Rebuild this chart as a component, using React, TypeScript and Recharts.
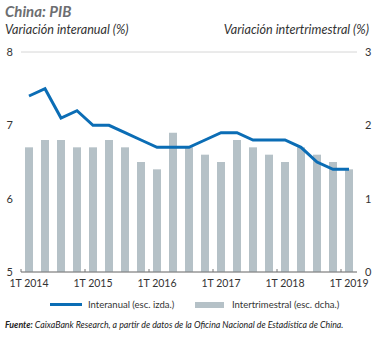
import React from 'react';
import { ComposedChart, Bar, Line, XAxis, YAxis, CartesianGrid } from 'recharts';

// Quarters 1T 2014 - 1T 2019
const quarters = [
  '1T 2014', '2T 2014', '3T 2014', '4T 2014',
  '1T 2015', '2T 2015', '3T 2015', '4T 2015',
  '1T 2016', '2T 2016', '3T 2016', '4T 2016',
  '1T 2017', '2T 2017', '3T 2017', '4T 2017',
  '1T 2018', '2T 2018', '3T 2018', '4T 2018',
  '1T 2019',
];

// Interanual (%), left scale
const interanual = [
  7.4, 7.5, 7.1, 7.2,
  7.0, 7.0, 6.9, 6.8,
  6.7, 6.7, 6.7, 6.8,
  6.9, 6.9, 6.8, 6.8,
  6.8, 6.7, 6.5, 6.4,
  6.4,
];

// Intertrimestral (%), right scale
const intertrimestral = [
  1.7, 1.8, 1.8, 1.7,
  1.7, 1.8, 1.7, 1.5,
  1.4, 1.9, 1.7, 1.6,
  1.5, 1.8, 1.7, 1.6,
  1.5, 1.7, 1.6, 1.5,
  1.4,
];

const leftTicks = [5, 6, 7, 8];
const rightTicks = [0, 1, 2, 3];

const data = quarters.map((q, i) => ({
  q,
  interanual: interanual[i],
  intertrimestral: intertrimestral[i],
}));

const FONT = 'Lato, "Noto Sans", sans-serif';
const BLUE = '#0b6db5';
const GREY_BAR = '#b5c1c7';

// x tick: label + small mark at the start of each year
const YearTick = (props: any) => {
  const { x, y, payload } = props;
  const half = payload.offset ?? 8;
  return (
    <g>
      <line x1={x - half} x2={x - half} y1={y - 3} y2={y} stroke="#777" strokeWidth={1} />
      <text x={x} y={y + 15} textAnchor="middle" fontSize={10.5} fill="#333" fontFamily={FONT}>
        {payload.value}
      </text>
    </g>
  );
};

export default function App() {
  return (
    <div style={{ position: 'absolute', left: 0, top: 0, width: 385, height: 338, background: '#fff', fontFamily: FONT }}>
      <div style={{ position: 'absolute', left: 5, top: 2, fontSize: 15, fontWeight: 700, fontStyle: 'italic', color: '#6d6e71' }}>
        China: PIB
      </div>
      <div style={{ position: 'absolute', left: 5, top: 22, fontSize: 12.6, fontStyle: 'italic', color: '#333' }}>
        Variación interanual (%)
      </div>
      <div style={{ position: 'absolute', right: 16, top: 22, fontSize: 12.6, fontStyle: 'italic', color: '#333' }}>
        Variación intertrimestral (%)
      </div>

      <ComposedChart
        width={385}
        height={338}
        data={data}
        margin={{ top: 52, right: 0, left: 0, bottom: 46 }}
        style={{ position: 'absolute', left: 0, top: 0 }}
      >
        <CartesianGrid vertical={false} stroke="#d6d6d6" />
        <XAxis
          dataKey="q"
          interval={3}
          tickSize={0}
          tickMargin={0}
          height={20}
          axisLine={{ stroke: '#777' }}
          tick={<YearTick />}
        />
        <YAxis
          yAxisId="left"
          domain={[5, 8]}
          ticks={leftTicks}
          width={21}
          axisLine={false}
          tickLine={false}
          tickMargin={2}
          tick={{ fontSize: 11, fill: '#333', fontFamily: FONT }}
        />
        <YAxis
          yAxisId="right"
          orientation="right"
          domain={[0, 3]}
          ticks={rightTicks}
          width={28}
          axisLine={false}
          tickLine={false}
          tickMargin={2}
          tick={{ fontSize: 11, fill: '#333', fontFamily: FONT }}
        />
        <Bar yAxisId="right" dataKey="intertrimestral" fill={GREY_BAR} barSize={8} isAnimationActive={false} />
        <Line
          yAxisId="left"
          type="linear"
          dataKey="interanual"
          stroke={BLUE}
          strokeWidth={3}
          dot={false}
          isAnimationActive={false}
        />
      </ComposedChart>

      <div style={{ position: 'absolute', left: 50, top: 299, display: 'flex', alignItems: 'center', fontSize: 9.5, color: '#333' }}>
        <span style={{ display: 'inline-block', width: 32, height: 3, background: BLUE, marginRight: 6 }} />
        Interanual (esc. izda.)
      </div>
      <div style={{ position: 'absolute', left: 195, top: 299, display: 'flex', alignItems: 'center', fontSize: 9.5, color: '#333' }}>
        <span style={{ display: 'inline-block', width: 29, height: 6, background: GREY_BAR, marginRight: 8 }} />
        Intertrimestral (esc. dcha.)
      </div>
      <div style={{ position: 'absolute', left: 5, top: 319, fontSize: 8.8, fontStyle: 'italic', color: '#222', whiteSpace: 'nowrap' }}>
        <b>Fuente:</b> CaixaBank Research, a partir de datos de la Oficina Nacional de Estadística de China.
      </div>
    </div>
  );
}
